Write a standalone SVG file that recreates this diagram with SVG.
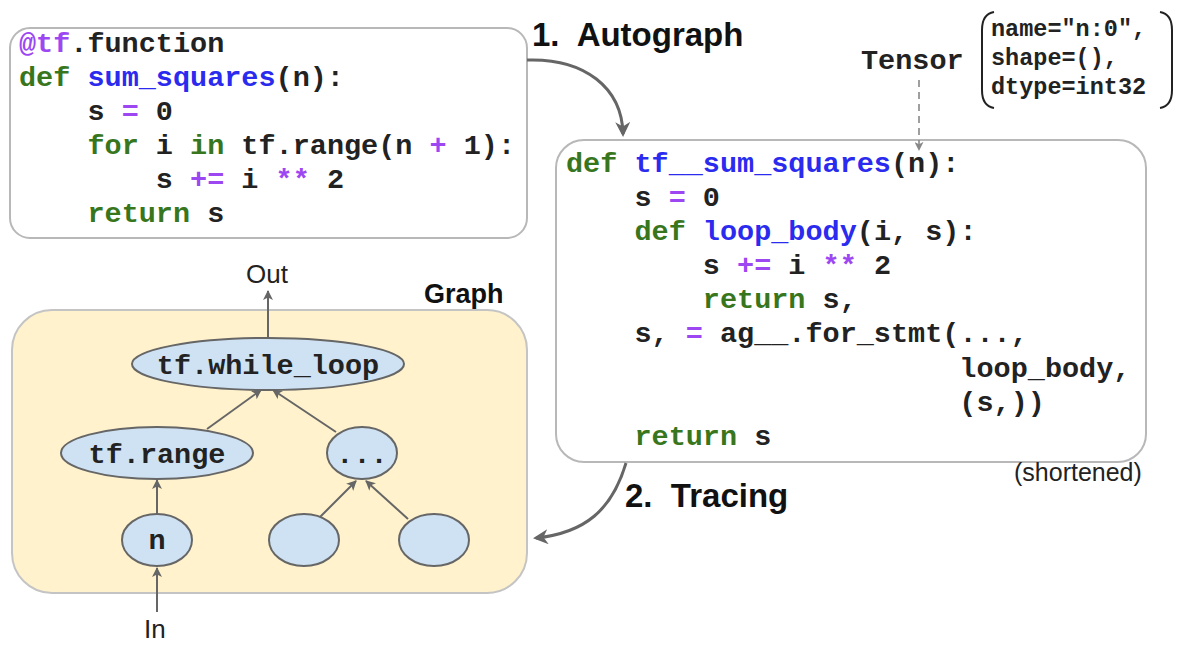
<svg xmlns="http://www.w3.org/2000/svg" width="1194" height="654" viewBox="0 0 1194 654">
<defs>
<style>
.code{font-family:"Liberation Mono","Courier New",monospace;font-weight:bold;font-size:28.5px;fill:#222;white-space:pre}
.small{font-size:23.5px}
.kw{fill:#38761d}
.fn{fill:#2b2bef}
.op{fill:#9d47f2}
.title{font-family:"Liberation Sans",Arial,sans-serif;font-weight:bold;font-size:33px;fill:#111;white-space:pre}
.lbl{font-family:"Liberation Sans",Arial,sans-serif;font-size:26px;fill:#222}
.box{fill:#fff;stroke:#b8b8b8;stroke-width:2}
.node{fill:#cfe2f3;stroke:#666;stroke-width:2}
.edge{stroke:#666;stroke-width:2;fill:none;marker-end:url(#sa)}
.big{stroke:#666;stroke-width:3;fill:none;marker-end:url(#ba)}
</style>
<marker id="sa" viewBox="0 0 10 10" refX="9" refY="5" markerWidth="5" markerHeight="5" orient="auto" markerUnits="strokeWidth">
<path d="M0,0 L10,5 L0,10 L2.5,5 z" fill="#666"/>
</marker>
<marker id="ba" viewBox="0 0 10 10" refX="8" refY="5" markerWidth="5" markerHeight="5" orient="auto" markerUnits="strokeWidth">
<path d="M0,0 L10,5 L0,10 L3,5 z" fill="#666"/>
</marker>
<marker id="da" viewBox="0 0 10 10" refX="9" refY="5" markerWidth="9" markerHeight="9" orient="auto" markerUnits="userSpaceOnUse">
<path d="M0,0 L10,5 L0,10 L2.5,5 z" fill="#888"/>
</marker>
</defs>

<g id="graph-box">
<rect x="12" y="310" width="515" height="283" rx="40" ry="40" fill="#fff2cc" stroke="#c4c4c4" stroke-width="2"/>
<text class="title" x="424" y="303" style="font-size:27px">Graph</text>
</g>

<g id="source-code">
<rect class="box" x="10" y="28" width="517" height="210" rx="20" ry="20"/>
<text class="code"><tspan x="19" y="52"><tspan class="op">@tf</tspan>.function</tspan><tspan x="19" y="86"><tspan class="kw">def</tspan> <tspan class="fn">sum_squares</tspan>(n):</tspan><tspan x="19" y="120">    s <tspan class="op">=</tspan> 0</tspan><tspan x="19" y="154">    <tspan class="kw">for</tspan> i <tspan class="kw">in</tspan> tf.range(n <tspan class="op">+</tspan> 1):</tspan><tspan x="19" y="188">        s <tspan class="op">+=</tspan> i <tspan class="op">**</tspan> 2</tspan><tspan x="19" y="222">    <tspan class="kw">return</tspan> s</tspan></text>
</g>

<g id="autograph-code">
<rect class="box" x="556" y="140" width="590" height="322" rx="28" ry="28"/>
<text class="code"><tspan x="566" y="172"><tspan class="kw">def</tspan> <tspan class="fn">tf__sum_squares</tspan>(n):</tspan><tspan x="566" y="206">    s <tspan class="op">=</tspan> 0</tspan><tspan x="566" y="240">    <tspan class="kw">def</tspan> <tspan class="fn">loop_body</tspan>(i, s):</tspan><tspan x="566" y="274">        s <tspan class="op">+=</tspan> i <tspan class="op">**</tspan> 2</tspan><tspan x="566" y="308">        <tspan class="kw">return</tspan> s,</tspan><tspan x="566" y="342">    s, <tspan class="op">=</tspan> ag__.for_stmt(...,</tspan><tspan x="566" y="377">                       loop_body,</tspan><tspan x="566" y="411">                       (s,))</tspan><tspan x="566" y="445">    <tspan class="kw">return</tspan> s</tspan></text>
<text class="lbl" x="1014" y="481" style="font-size:25px">(shortened)</text>
</g>

<g id="tensor">
<text class="code" x="861" y="69">Tensor</text>
<path d="M994,12 Q982,14 982,30 L982,90 Q982,106 994,108" fill="none" stroke="#222" stroke-width="2"/>
<path d="M1160,12 Q1172,14 1172,30 L1172,90 Q1172,106 1160,108" fill="none" stroke="#222" stroke-width="2"/>
<text class="code small"><tspan x="991" y="36">name="n:0",</tspan><tspan x="991" y="65">shape=(),</tspan><tspan x="991" y="94">dtype=int32</tspan></text>
</g>

<g id="labels">
<text class="title" x="532" y="46">1.  Autograph</text>
<text class="title" x="625" y="507">2.  Tracing</text>
<text class="lbl" x="246" y="283">Out</text>
<text class="lbl" x="144" y="638">In</text>
</g>

<g id="connectors">
<path class="big" d="M527,60 C585,58 622,88 623,134"/>
<path class="big" d="M626,463 C612,510 585,533 536,538"/>
<path d="M919,80 L919,150" stroke="#888" stroke-width="1.6" stroke-dasharray="7,5" fill="none" marker-end="url(#da)"/>
<path class="edge" d="M268,337 L268,291"/>
<path class="edge" d="M207,429 L261,390"/>
<path class="edge" d="M336,432 L273,390"/>
<path class="edge" d="M157,513 L157,480"/>
<path class="edge" d="M320,517 L356,481"/>
<path class="edge" d="M408,519 L366,481"/>
<path class="edge" d="M157,612 L157,568"/>
</g>

<g id="node-while-loop">
<ellipse class="node" cx="268" cy="364" rx="136" ry="26"/>
<text class="code" x="268" y="374" text-anchor="middle">tf.while_loop</text>
</g>
<g id="node-range">
<ellipse class="node" cx="157" cy="453" rx="96" ry="26"/>
<text class="code" x="157" y="463" text-anchor="middle">tf.range</text>
</g>
<g id="node-dots">
<ellipse class="node" cx="362" cy="453" rx="35" ry="26"/>
<text class="code" x="362" y="463" text-anchor="middle">...</text>
</g>
<g id="node-n">
<ellipse class="node" cx="157" cy="540" rx="35" ry="26"/>
<text class="code" x="157" y="549" text-anchor="middle">n</text>
</g>
<g id="node-a">
<ellipse class="node" cx="304" cy="540" rx="35" ry="26"/>
</g>
<g id="node-b">
<ellipse class="node" cx="434" cy="540" rx="35" ry="26"/>
</g>
</svg>
